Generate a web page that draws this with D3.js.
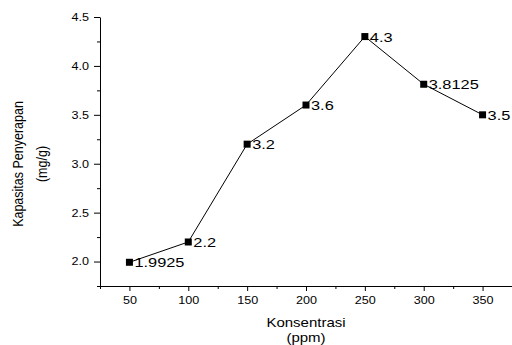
<!DOCTYPE html>
<html>
<head>
<meta charset="utf-8">
<script src="https://cdn.jsdelivr.net/npm/d3@7"></script>
<style>
  body { margin: 0; background: #fff; }
  svg { display: block; font-family: "Liberation Sans", Arial, sans-serif; }
  .axis path, .axis line { stroke: #000; }
  .axis text { fill: #000; font-size: 10.5px; }
</style>
</head>
<body>
<div id="chart"></div>
<script>
// data
const konsentrasi = [50, 100, 150, 200, 250, 300, 350];
const kapasitas = [1.9925, 2.2, 3.2, 3.6, 4.3, 3.8125, 3.5];
const labels = ["1.9925", "2.2", "3.2", "3.6", "4.3", "3.8125", "3.5"];
const xTicks = [50, 100, 150, 200, 250, 300, 350];
const yTicks = [2.0, 2.5, 3.0, 3.5, 4.0, 4.5];

const width = 512, height = 345;
const mLeft = 100, mRight = 512, mTop = 17, mBottom = 286;
// the original figure looks stretched sideways, so text is widened a bit
const sx = 1.2;

const svg = d3.select("#chart").append("svg")
  .attr("width", width)
  .attr("height", height);

let x = d3.scaleLinear().domain([25, 375]).range([mLeft, mRight]);
let y = d3.scaleLinear().domain([1.75, 4.5]).range([mBottom, mTop]);

// minor ticks first
svg.append("g")
  .attr("class", "axis")
  .attr("transform", `translate(0,${mBottom})`)
  .call(d3.axisBottom(x).tickValues(d3.range(25, 376, 50)).tickSize(3).tickFormat(""))
  .select(".domain").remove();

svg.append("g")
  .attr("class", "axis")
  .attr("transform", `translate(${mLeft},0)`)
  .call(d3.axisLeft(y).tickValues([1.75, 2.25, 2.75, 3.25, 3.75, 4.25]).tickSize(3).tickFormat(""))
  .select(".domain").remove();

// major axes
let gx = svg.append("g")
  .attr("class", "axis")
  .attr("transform", `translate(0,${mBottom})`)
  .call(d3.axisBottom(x).tickValues(xTicks).tickSize(5).tickSizeOuter(0).tickPadding(6).tickFormat(d3.format("d")));
gx.selectAll("text").attr("transform", `scale(${sx},1)`);

let gy = svg.append("g")
  .attr("class", "axis")
  .attr("transform", `translate(${mLeft},0)`)
  .call(d3.axisLeft(y).tickValues(yTicks).tickSize(6).tickSizeOuter(0).tickPadding(5).tickFormat(d3.format(".1f")));
gy.selectAll("text")
  .attr("x", -11 / sx)
  .attr("transform", `scale(${sx},1)`);

// line
const line = d3.line()
  .x((d, i) => x(konsentrasi[i]))
  .y(d => y(d));

svg.append("path")
  .datum(kapasitas)
  .attr("fill", "none")
  .attr("stroke", "#000")
  .attr("stroke-width", 1)
  .attr("d", line);

// square markers
svg.selectAll(".pt")
  .data(kapasitas)
  .enter()
  .append("rect")
  .attr("class", "pt")
  .attr("x", (d, i) => x(konsentrasi[i]) - 3.5)
  .attr("y", d => y(d) - 3.5)
  .attr("width", 7)
  .attr("height", 7)
  .attr("fill", "#000");

// value labels
svg.selectAll(".lbl")
  .data(kapasitas)
  .enter()
  .append("text")
  .attr("class", "lbl")
  .attr("transform", (d, i) => `translate(${x(konsentrasi[i]) + 5},${y(d) + 5}) scale(1.26,1)`)
  .attr("font-size", "13px")
  .attr("fill", "#000")
  .text((d, i) => labels[i]);

// axis titles
const cx = (mLeft + mRight) / 2;
svg.append("text")
  .attr("transform", `translate(${cx},326.5) scale(${sx},1)`)
  .attr("text-anchor", "middle")
  .attr("font-size", "12.5px")
  .text("Konsentrasi");
svg.append("text")
  .attr("transform", `translate(${cx},341.5) scale(${sx},1)`)
  .attr("text-anchor", "middle")
  .attr("font-size", "12.5px")
  .text("(ppm)");

const cy = 164;
svg.append("text")
  .attr("transform", `translate(23,${cy}) scale(${sx},1) rotate(-90)`)
  .attr("text-anchor", "middle")
  .attr("font-size", "12.5px")
  .text("Kapasitas Penyerapan");
svg.append("text")
  .attr("transform", `translate(47,${cy}) scale(${sx},1) rotate(-90)`)
  .attr("text-anchor", "middle")
  .attr("font-size", "12.5px")
  .text("(mg/g)");
</script>
</body>
</html>
